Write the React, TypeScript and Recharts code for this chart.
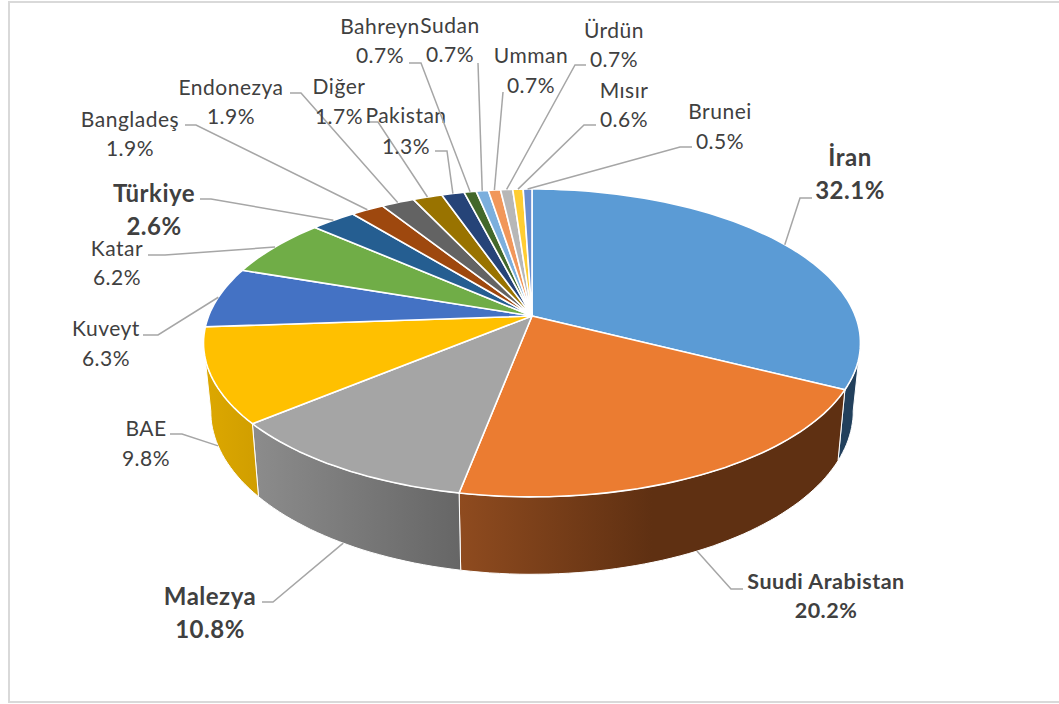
import { Pie, PieChart } from "recharts";

const NAMES = [
  "İran", "Suudi Arabistan", "Malezya", "BAE", "Kuveyt", "Katar", "Türkiye", "Bangladeş", "Endonezya",
  "Diğer", "Pakistan", "Bahreyn", "Sudan", "Umman", "Ürdün", "Mısır", "Brunei",
];
const SHARES = [32.1, 20.2, 10.8, 9.8, 6.3, 6.2, 2.6, 1.9, 1.9, 1.7, 1.3, 0.7, 0.7, 0.7, 0.7, 0.6, 0.5];
const COLORS = [
  "#5B9BD5", "#EB7C31", "#A5A5A5", "#FFC000", "#4472C4", "#70AD47", "#255E91", "#9E480E", "#636363",
  "#997300", "#264478", "#43682B", "#7CAFDD", "#F1975A", "#B7B7B7", "#FFCD33", "#698ED0",
];

const data = NAMES.map((name, i) => ({ name, value: SHARES[i] }));

// side wall colours, only the slices facing the viewer show one
const WALLS: Record<string, [string, string, number]> = {
  "İran": ["#22405C", "#22405C", 1],
  "Suudi Arabistan": ["#8F4B1F", "#5F3012", 0.5],
  Malezya: ["#8C8C8C", "#666666", 1],
  BAE: ["#DDA800", "#D09E00", 1],
};

// label placement: centre x, y of both lines, font size, leader elbow points
type LabelSpot = { x: number; y: [number, number]; size: number; bold?: boolean; line: number[][]; onWall?: boolean };
const SPOTS: LabelSpot[] = [
  { x: 850, y: [156, 189], size: 24, bold: true, line: [[812, 198], [800, 198]] },
  { x: 826, y: [581, 610], size: 21.5, bold: true, line: [[743, 589], [731, 589]], onWall: true },
  { x: 210, y: [595, 628], size: 24, bold: true, line: [[262, 602], [273, 602]], onWall: true },
  { x: 146, y: [427, 457], size: 21, line: [[170, 434], [182, 434]], onWall: true },
  { x: 106, y: [327, 357], size: 21, line: [[143, 335], [158, 335]] },
  { x: 117, y: [247, 276], size: 21, line: [[148, 255], [165, 255]] },
  { x: 154, y: [192, 225], size: 24, bold: true, line: [[200, 199], [211, 199]] },
  { x: 130, y: [118, 147], size: 21, line: [[185, 125], [196, 125]] },
  { x: 231, y: [86, 115], size: 21, line: [[290, 93], [301, 93]] },
  { x: 339, y: [85, 115], size: 21, line: [[367, 122], [378, 122]] },
  { x: 406, y: [114, 145], size: 21, line: [[435, 151], [447, 151]] },
  { x: 380, y: [25, 54], size: 21, line: [[409, 63], [421, 63]] },
  { x: 450, y: [24, 53], size: 21, line: [[478, 63]] },
  { x: 531, y: [54, 84], size: 21, line: [[503, 92]] },
  { x: 614, y: [29, 58], size: 21, line: [[586, 65], [575, 65]] },
  { x: 624, y: [89, 118], size: 21, line: [[596, 125], [584, 125]] },
  { x: 720, y: [110, 140], size: 21, line: [[692, 147], [680, 147]] },
];

// the pie lies tilted, so the circle goes through a perspective projection
const TILT = 0.4614;
const NEAR = 0.175;
const FRONT_FROM = 100;
const FRONT_TO = 260;

const rim = (cx: number, cy: number, r: number, clockDeg: number) => {
  const t = (clockDeg * Math.PI) / 180;
  const u = Math.sin(t);
  const v = Math.cos(t);
  const w = 1 + NEAR * v;
  return { x: cx + (r * u) / w, y: cy - (r * TILT * v) / w };
};

const lowerRim = (cx: number, p: { x: number; y: number }) => ({
  x: cx + (p.x - cx) * 0.978,
  y: p.y + 71 + (p.y - 390) * 0.06,
});

const arcPoints = (cx: number, cy: number, r: number, from: number, to: number) => {
  const pts = [];
  const steps = Math.max(2, Math.ceil((to - from) / 1.5));
  for (let i = 0; i <= steps; i++) pts.push(rim(cx, cy, r, from + ((to - from) * i) / steps));
  return pts;
};

const toPath = (pts: { x: number; y: number }[]) =>
  pts.map((p, i) => `${i ? "L" : "M"}${p.x.toFixed(1)},${p.y.toFixed(1)}`).join(" ") + " Z";

function TopSlice(props: any) {
  const { cx, cy, outerRadius, startAngle, endAngle, fill } = props;
  const from = 90 - startAngle;
  const to = 90 - endAngle;
  const d = toPath([{ x: cx, y: cy }, ...arcPoints(cx, cy, outerRadius, from, to)]);
  return <path d={d} fill={fill} stroke="#fff" strokeWidth={1.6} strokeLinejoin="round" />;
}

function WallSlice(props: any) {
  const { cx, cy, outerRadius, startAngle, endAngle, name } = props;
  const wall = WALLS[name];
  if (!wall) return null;
  const from = Math.max(90 - startAngle, FRONT_FROM);
  const to = Math.min(90 - endAngle, FRONT_TO);
  if (to <= from) return null;
  const upper = arcPoints(cx, cy, outerRadius, from, to);
  const lower = upper.map((p) => lowerRim(cx, p)).reverse();
  const id = `wall-${NAMES.indexOf(name)}`;
  return (
    <g>
      <defs>
        <linearGradient id={id} x1="0" y1="0" x2="1" y2="0">
          <stop offset={0} stopColor={wall[0]} />
          <stop offset={wall[2]} stopColor={wall[1]} />
        </linearGradient>
      </defs>
      <path d={toPath([...upper, ...lower])} fill={`url(#${id})`} stroke="#fff" strokeWidth={1} />
    </g>
  );
}

function SliceLabel(props: any) {
  const { cx, cy, outerRadius, midAngle, index, name, value } = props;
  const spot = SPOTS[index];
  let end = rim(cx, cy, outerRadius, 90 - midAngle);
  if (spot.onWall) end = lowerRim(cx, end);
  const pts = [...spot.line, [end.x, end.y]].map((p) => p.join(",")).join(" ");
  const textProps = {
    x: spot.x,
    textAnchor: "middle" as const,
    dominantBaseline: "central" as const,
    fill: "#404040",
    fontFamily: "Lato, Carlito, sans-serif",
    fontSize: spot.size,
    fontWeight: spot.bold ? 700 : 400,
    letterSpacing: 0.5,
  };
  return (
    <g>
      <polyline points={pts} fill="none" stroke="#A6A6A6" strokeWidth={1.5} />
      <text {...textProps} y={spot.y[0]}>{name}</text>
      <text {...textProps} y={spot.y[1]}>{`${value.toFixed(1)}%`}</text>
    </g>
  );
}

export default function App() {
  const colored = data.map((d, i) => ({ ...d, fill: COLORS[i] }));
  return (
    <div style={{ position: "absolute", left: 0, top: 0, width: 1059, height: 704, background: "#fff", overflow: "hidden" }}>
      <div style={{ position: "absolute", left: 8, top: 1, width: 1060, height: 698, border: "2px solid #D9D9D9" }} />
      <PieChart width={1059} height={704} margin={{ top: 0, right: 0, bottom: 0, left: 0 }} style={{ position: "absolute", left: 0, top: 0 }}>
        <Pie
          data={colored}
          dataKey="value"
          nameKey="name"
          cx={532}
          cy={316}
          outerRadius={323.4}
          startAngle={90}
          endAngle={-270}
          stroke="none"
          shape={WallSlice}
          isAnimationActive={false}
        />
        <Pie
          data={colored}
          dataKey="value"
          nameKey="name"
          cx={532}
          cy={316}
          outerRadius={323.4}
          startAngle={90}
          endAngle={-270}
          stroke="none"
          shape={TopSlice}
          label={SliceLabel}
          labelLine={false}
          isAnimationActive={false}
        />
      </PieChart>
    </div>
  );
}
